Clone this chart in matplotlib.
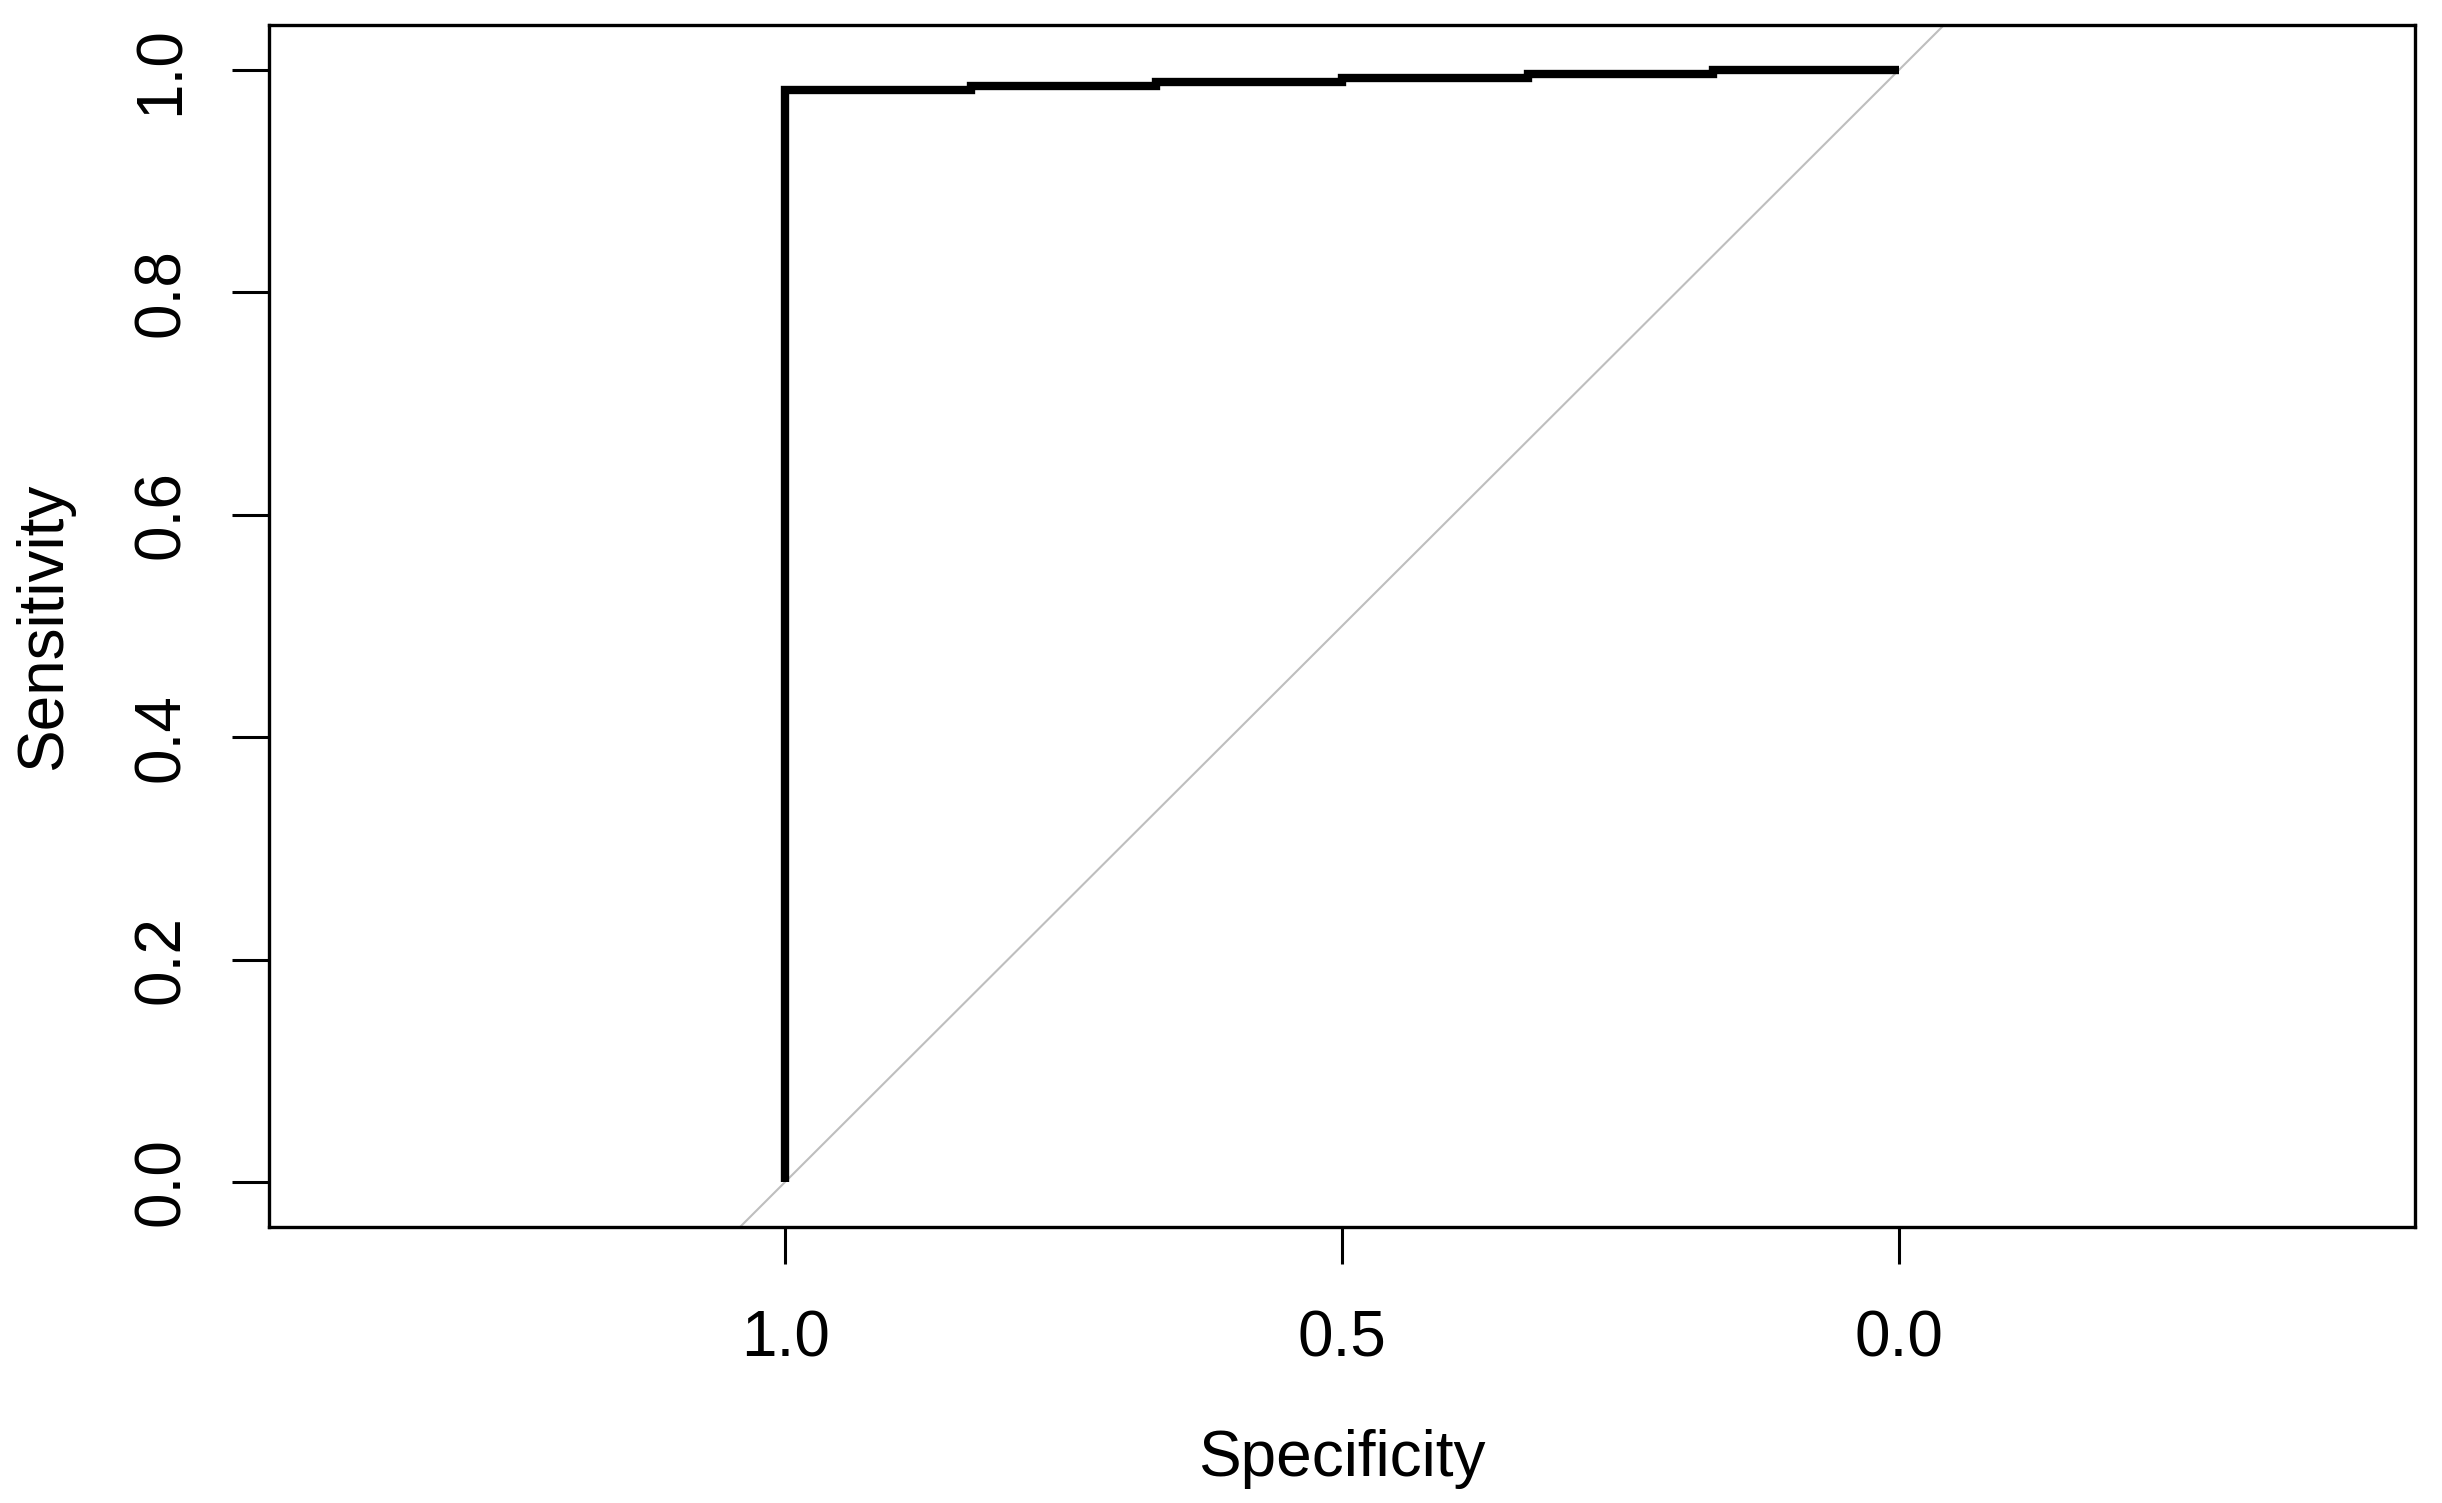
import matplotlib
matplotlib.use("Agg")
import matplotlib.pyplot as plt

# ROC curve points (specificity on x, reversed axis; sensitivity on y)
specificity = [1.0, 1.0, 0.8333, 0.8333, 0.6667, 0.6667, 0.5, 0.5,
               0.3333, 0.3333, 0.1667, 0.1667, 0.0]
sensitivity = [0.0, 0.982, 0.982, 0.9855, 0.9855, 0.989, 0.989, 0.9927,
               0.9927, 0.9963, 0.9963, 1.0, 1.0]

x_ticks = [1.0, 0.5, 0.0]
x_ticklabels = ["1.0", "0.5", "0.0"]
y_ticks = [0.0, 0.2, 0.4, 0.6, 0.8, 1.0]
y_ticklabels = ["0.0", "0.2", "0.4", "0.6", "0.8", "1.0"]

plt.rcParams['font.family'] = ['Liberation Sans', 'DejaVu Sans']

fig = plt.figure(figsize=(24.42, 15.03), dpi=100)
ax = fig.add_axes([269/2442, 1 - 1227/1503, (2415-269)/2442, (1227-25)/1503])

# chance diagonal
ax.axline((1.0, 0.0), (0.0, 1.0), color="#BEBEBE", linewidth=1.5, zorder=1)
# ROC curve
ax.plot(specificity, sensitivity, color="black", linewidth=6,
        solid_capstyle="butt", solid_joinstyle="miter", zorder=2)

ax.set_xlim(1.4636, -0.4636)
ax.set_ylim(-0.0406, 1.0406)

ax.set_xticks(x_ticks)
ax.set_xticklabels(x_ticklabels)
ax.set_yticks(y_ticks)
ax.set_yticklabels(y_ticklabels, rotation=90, va="center")

ax.tick_params(axis="both", length=26.5, width=2.2, colors="black", labelsize=46)
ax.tick_params(axis="x", pad=33)
ax.tick_params(axis="y", pad=29)

for s in ax.spines.values():
    s.set_linewidth(2.4)
    s.set_color("black")

ax.set_xlabel("Specificity", fontsize=46, va="center")
ax.xaxis.set_label_coords(0.5, -0.193)
ax.set_ylabel("Sensitivity", fontsize=46, va="center")
ax.yaxis.set_label_coords(-0.1048, 0.5)

fig.savefig("out.png", dpi=100, facecolor="white")
